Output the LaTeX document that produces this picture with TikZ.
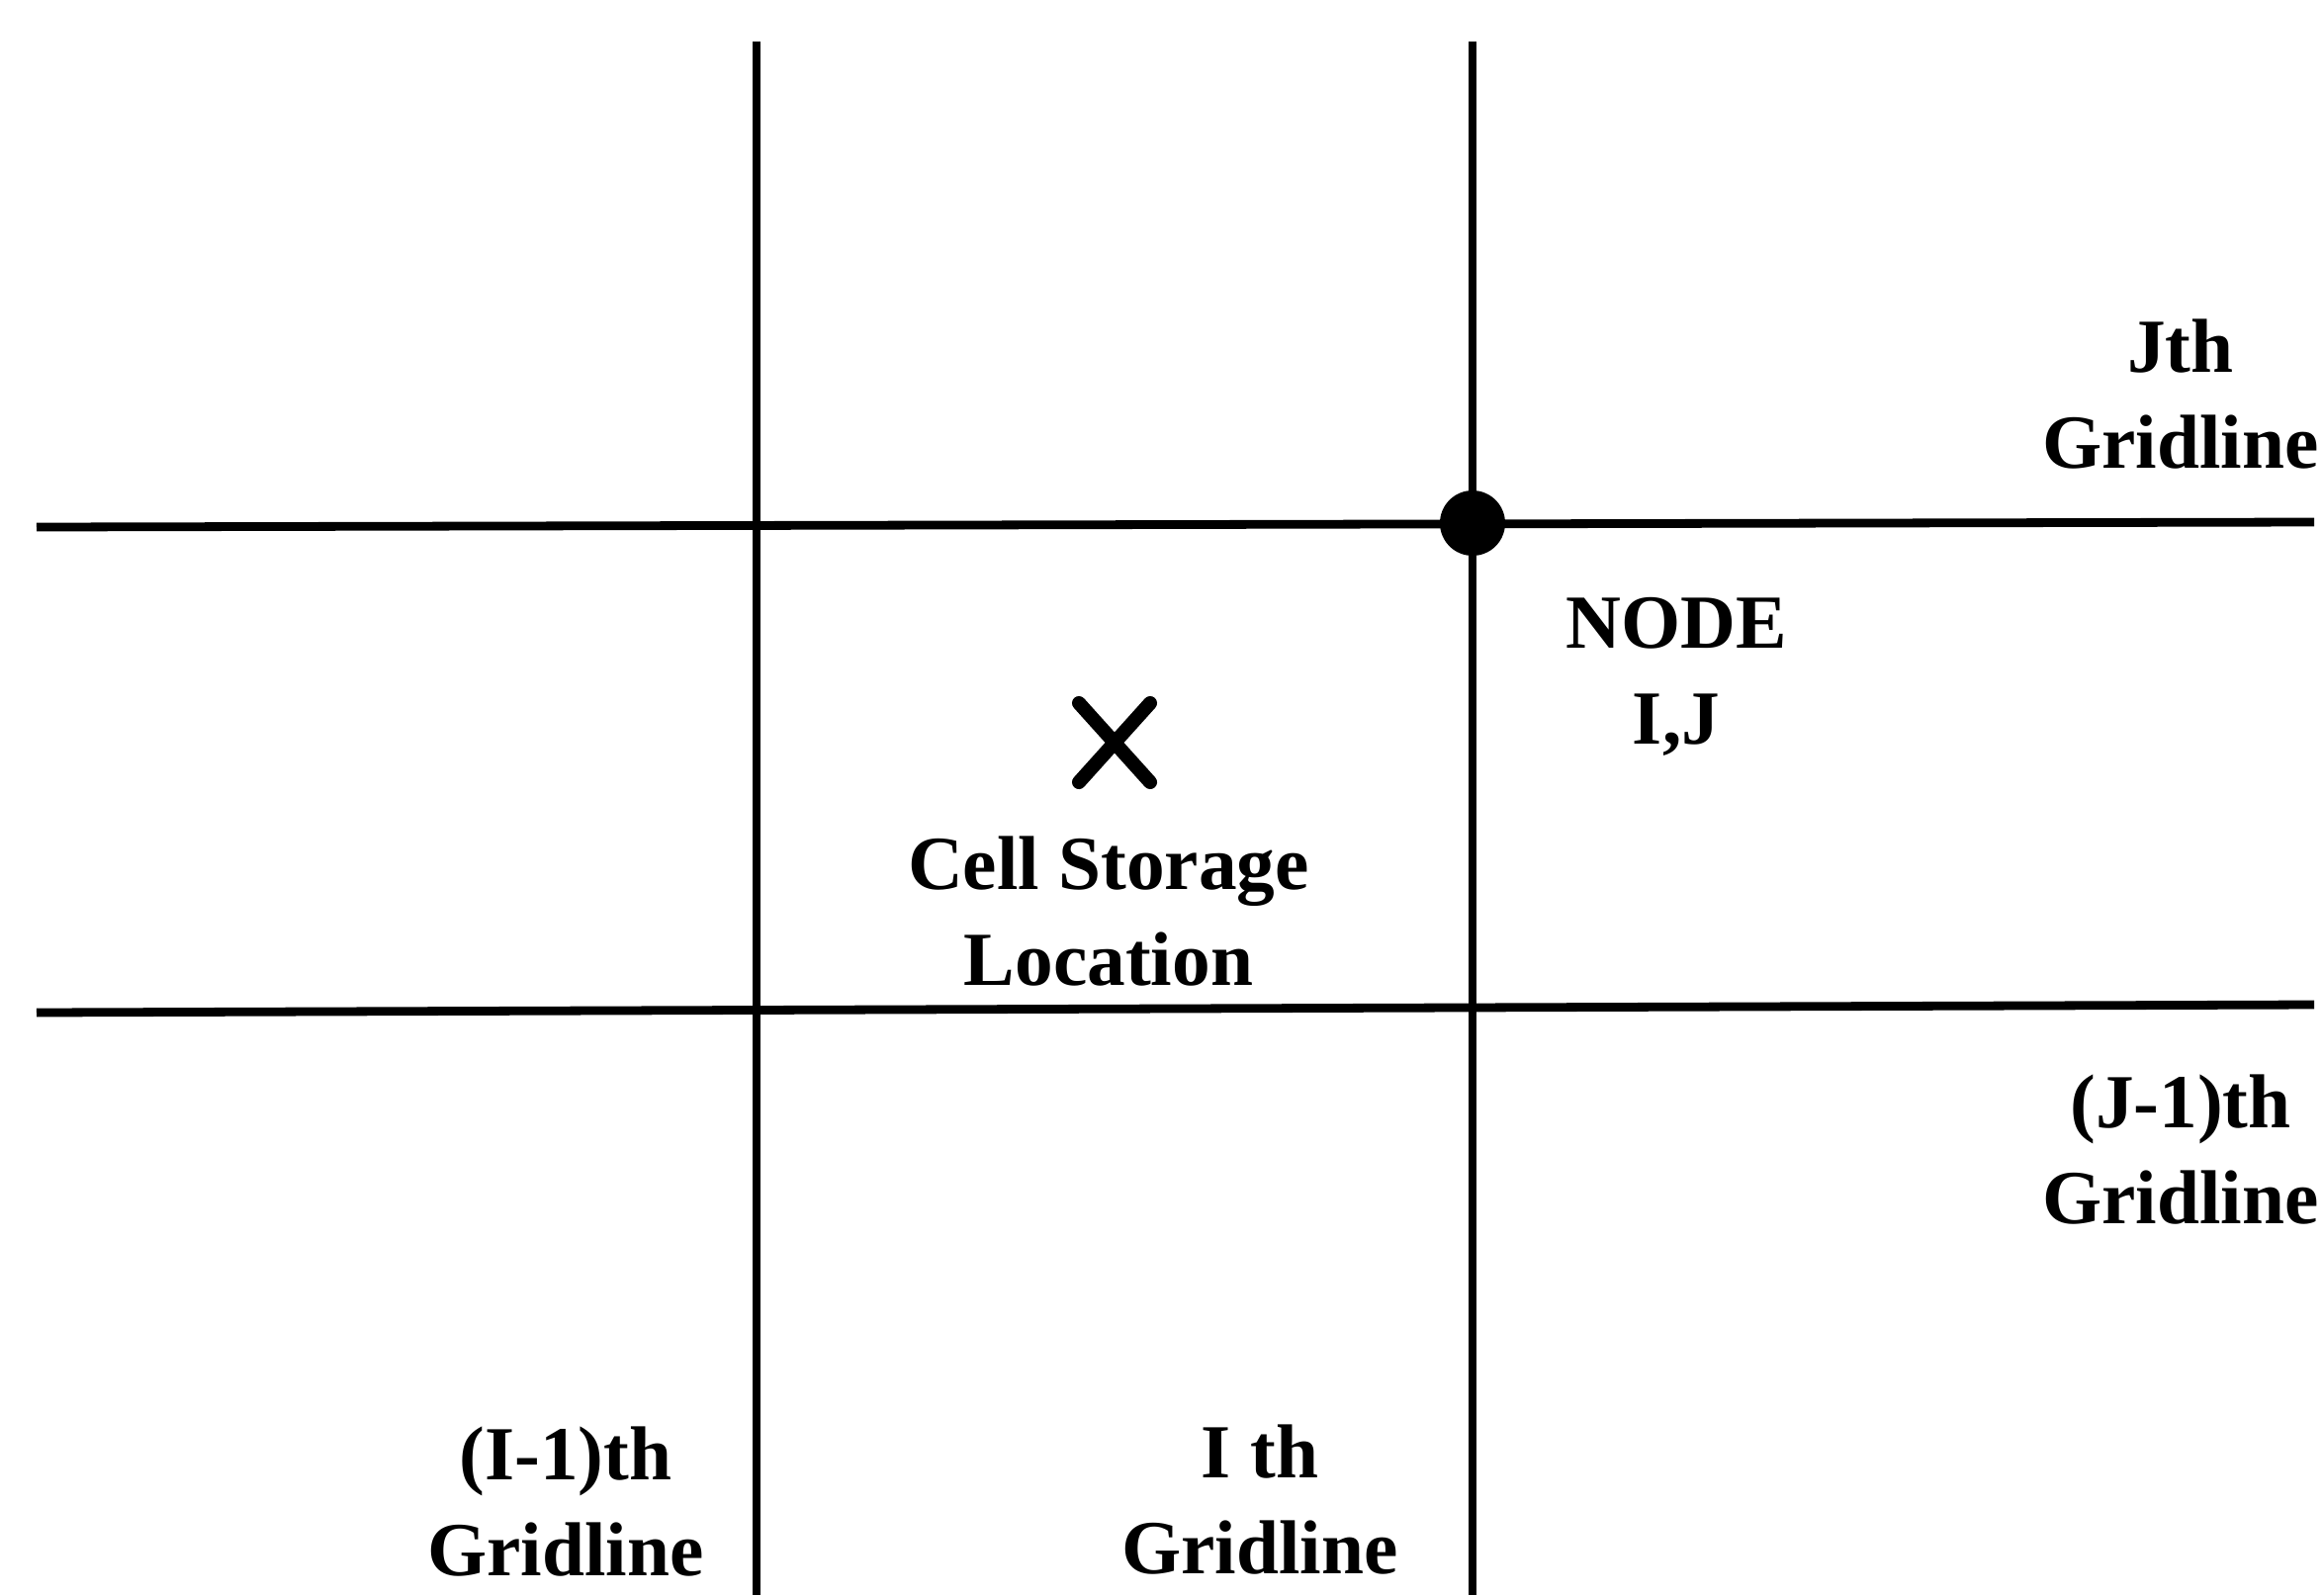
\documentclass[tikz,border=0pt]{standalone}
\usepackage{fontspec}
\setmainfont{Liberation Serif}
\usetikzlibrary{calc}

\tikzset{
  gridline/.style={line width=2.5pt},
  gridlabel/.style={font=\fontsize{22}{27.5}\selectfont\bfseries, align=center, inner sep=0pt, anchor=base},
}

\begin{document}
\begin{tikzpicture}
\useasboundingbox (0,0) rectangle (23.49,-16.13);

% --- Gridline ends ---
\coordinate (Iprevtop) at (7.65,-0.42);
\coordinate (Iprevbot) at (7.65,-16.13);
\coordinate (Itop) at (14.89,-0.42);
\coordinate (Ibot) at (14.89,-16.13);
\coordinate (Jleft) at (0.37,-5.33);
\coordinate (Jright) at (23.40,-5.28);
\coordinate (Jprevleft) at (0.37,-10.24);
\coordinate (Jprevright) at (23.40,-10.16);

% --- Gridlines ---
\draw[gridline] (Iprevtop) -- (Iprevbot);
\draw[gridline] (Itop) -- (Ibot);
\draw[gridline] (Jleft) -- (Jright);
\draw[gridline] (Jprevleft) -- (Jprevright);

% --- Node I,J ---
\node[circle, fill, minimum size=0.66cm, inner sep=0pt] (nodeIJ) at (14.89,-5.29) {};

% --- Cell storage cross ---
\coordinate (cell) at (11.27,-7.51);
\draw[line width=4pt, line cap=round] ($(cell)+(-0.36,0.40)$) -- ($(cell)+(0.36,-0.40)$);
\draw[line width=4pt, line cap=round] ($(cell)+(-0.36,-0.40)$) -- ($(cell)+(0.36,0.40)$);

% --- Labels (anchored at the last baseline) ---
\node[gridlabel] (nodelabel) at (16.95,-7.52) {NODE\\I,J};
\node[gridlabel] (celllabel) at (11.21,-9.96) {Cell Storage\\Location};
\node[gridlabel] (jlabel) at (22.05,-4.73) {Jth\\Gridline};
\node[gridlabel] (jprevlabel) at (22.05,-12.37) {(J-1)th\\Gridline};
\node[gridlabel] (iprevlabel) at (5.72,-15.93) {(I-1)th\\Gridline};
\node[gridlabel] (ilabel) at (12.74,-15.91) {I th\\Gridline};

\end{tikzpicture}
\end{document}
